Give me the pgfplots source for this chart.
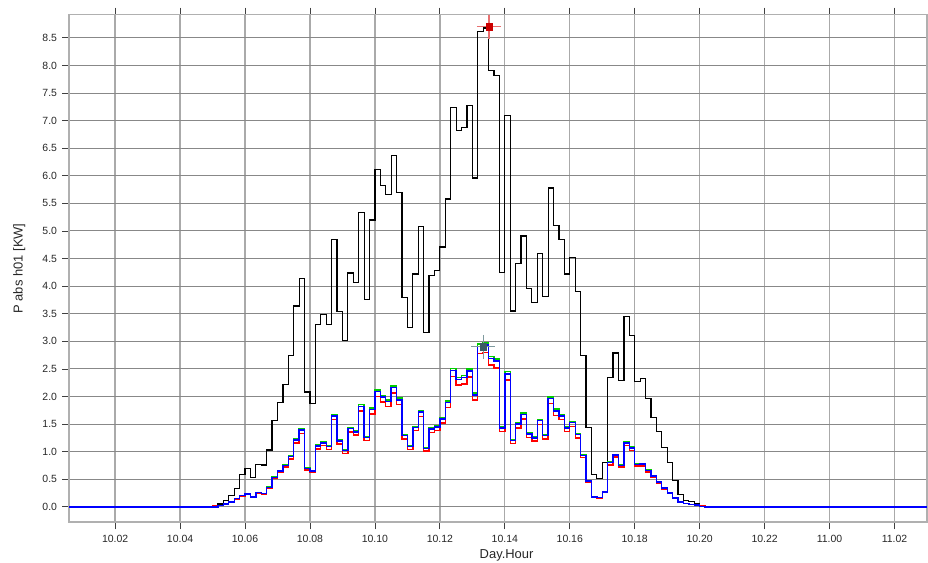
\documentclass[border=0pt]{standalone}
\usepackage{pgfplots}
\pgfplotsset{compat=1.18}
\usepackage{pgfplotstable}
\usepackage{fontspec}
\setmainfont{Liberation Sans}
\definecolor{gridh}{HTML}{888888}
\definecolor{gridv}{HTML}{AAAAAA}
\definecolor{frame}{HTML}{B0B0B0}
\definecolor{cred}{HTML}{FF0000}
\definecolor{cgreen}{HTML}{00CC00}
\definecolor{cblue}{HTML}{0000FF}
\definecolor{curred}{HTML}{CC0000}
\definecolor{curredl}{HTML}{E87070}
\definecolor{curblue}{HTML}{3A5A66}
\definecolor{curbluel}{HTML}{7F9A9E}
\pgfplotstableread{
x k r g b
0.58 0 0 0 0
5.000 0 0.02 0 0
5.167 0.05 0.02 0.02 0.02
5.333 0.11 0.05 0.05 0.05
5.500 0.20 0.09 0.09 0.09
5.667 0.33 0.14 0.15 0.15
5.833 0.58 0.20 0.21 0.21
6.000 0.70 0.22 0.23 0.23
6.167 0.53 0.17 0.18 0.18
6.333 0.77 0.25 0.26 0.26
6.500 0.76 0.23 0.24 0.24
6.667 1.03 0.33 0.36 0.35
6.833 1.56 0.51 0.54 0.53
7.000 1.89 0.62 0.66 0.65
7.167 2.22 0.72 0.76 0.75
7.333 2.75 0.87 0.92 0.91
7.500 3.64 1.16 1.23 1.21
7.667 4.14 1.33 1.41 1.39
7.833 2.08 0.67 0.71 0.70
8.000 1.88 0.62 0.66 0.65
8.167 3.30 1.05 1.12 1.10
8.333 3.49 1.11 1.18 1.16
8.500 3.30 1.04 1.11 1.09
8.667 4.84 1.58 1.67 1.65
8.833 3.54 1.14 1.21 1.19
9.000 3.02 0.97 1.04 1.02
9.167 4.24 1.36 1.44 1.42
9.333 4.06 1.30 1.38 1.36
9.500 5.33 1.74 1.85 1.82
9.667 3.76 1.20 1.28 1.26
9.833 5.20 1.68 1.79 1.76
10.000 6.12 2.00 2.12 2.09
10.167 5.83 1.90 2.02 1.99
10.333 5.66 1.82 1.94 1.91
10.500 6.37 2.06 2.19 2.16
10.667 5.70 1.85 1.97 1.94
10.833 3.79 1.23 1.31 1.29
11.000 3.25 1.04 1.11 1.09
11.167 4.22 1.38 1.46 1.44
11.333 5.08 1.64 1.75 1.72
11.500 3.16 1.01 1.08 1.06
11.667 4.19 1.35 1.43 1.41
11.833 4.29 1.38 1.47 1.45
12.000 4.71 1.52 1.61 1.59
12.167 5.58 1.80 1.92 1.89
12.333 7.24 2.36 2.51 2.47
12.500 6.82 2.21 2.34 2.31
12.667 6.88 2.23 2.38 2.34
12.833 7.27 2.35 2.50 2.46
13.000 5.96 1.94 2.06 2.03
13.167 8.62 2.78 2.95 2.91
13.333 8.68 2.80 2.97 2.93
13.500 7.91 2.57 2.73 2.69
13.667 7.82 2.52 2.68 2.64
13.833 4.25 1.37 1.45 1.43
14.000 7.10 2.30 2.45 2.41
14.167 3.55 1.15 1.22 1.20
14.333 4.41 1.43 1.52 1.50
14.500 4.91 1.59 1.70 1.67
14.667 3.96 1.26 1.34 1.32
14.833 3.70 1.19 1.27 1.25
15.000 4.59 1.49 1.58 1.56
15.167 3.81 1.23 1.31 1.29
15.333 5.78 1.87 1.99 1.96
15.500 5.10 1.66 1.77 1.74
15.667 4.85 1.58 1.67 1.65
15.833 4.22 1.37 1.45 1.43
16.000 4.52 1.46 1.55 1.53
16.167 3.91 1.25 1.33 1.31
16.333 2.75 0.89 0.94 0.93
16.500 1.44 0.45 0.48 0.47
16.667 0.58 0.17 0.18 0.18
16.833 0.52 0.16 0.17 0.17
17.000 0.81 0.26 0.27 0.27
17.167 2.35 0.76 0.81 0.80
17.333 2.79 0.90 0.95 0.94
17.500 2.29 0.72 0.76 0.75
17.667 3.45 1.11 1.18 1.16
17.833 3.10 1.02 1.09 1.07
18.000 2.27 0.74 0.78 0.77
18.167 2.32 0.74 0.79 0.78
18.333 1.97 0.63 0.67 0.66
18.500 1.62 0.53 0.57 0.56
18.667 1.37 0.43 0.46 0.45
18.833 1.07 0.32 0.35 0.34
19.000 0.80 0.24 0.25 0.25
19.167 0.48 0.15 0.16 0.16
19.333 0.22 0.09 0.09 0.09
19.500 0.12 0.06 0.06 0.06
19.667 0.09 0.04 0.04 0.04
19.833 0.06 0.03 0.03 0.03
20.000 0.03 0.02 0.01 0.01
20.167 0 0.01 0 0
20.333 0 0 0 0
27.0 0 0 0 0
}\data
\begin{document}
\begin{tikzpicture}
\begin{axis}[
  name=ax,
  scale only axis, width=858bp, height=507.6bp,
  xmin=0.58, xmax=27.0, ymin=-0.28, ymax=8.92,
  xtick={2,4,6,8,10,12,14,16,18,20,22,24,26},
  xticklabels={10.02,10.04,10.06,10.08,10.10,10.12,10.14,10.16,10.18,10.20,10.22,11.00,11.02},
  ytick={0,0.5,1,1.5,2,2.5,3,3.5,4,4.5,5,5.5,6,6.5,7,7.5,8,8.5},
  /pgf/number format/assume math mode=true,
  yticklabel style={xshift=-1.5bp, /pgf/number format/.cd, fixed, fixed zerofill, precision=1},
  xticklabel style={yshift=-2bp},
  ticklabel style={font=\fontsize{10.5}{12}\selectfont, text=black!85},
  xmajorgrids, ymajorgrids,
  x grid style={gridv, line width=1.3bp},
  y grid style={gridh, line width=1bp},
  axis line style={frame, line width=1.6bp},
  tick align=outside, major tick length=7bp,
  tick style={black!75, line width=0.8bp},
  xlabel={Day.Hour}, ylabel={P abs h01 [KW]},
  label style={font=\fontsize{13}{15}\selectfont, text=black!85},
  xlabel style={at={(axis description cs:0.51,-0.0644)}, anchor=center},
  ylabel style={at={(axis description cs:-0.058,0.5)}, anchor=center},
  every axis plot/.append style={const plot, mark=none},
]
\addplot[black, line width=1.2bp] table[x=x, y=k] {\data};
\addplot[cred, line width=1.4bp] table[x=x, y=r] {\data};
\addplot[cgreen, line width=1.4bp] table[x=x, y=g] {\data};
\addplot[cblue, line width=1.4bp] table[x=x, y=b] {\data};
\addplot[only marks, mark=+, mark size=12bp, curredl, line width=1.2bp] coordinates {(13.51,8.70)};
\addplot[only marks, mark=square*, mark size=3.2bp, curred] coordinates {(13.51,8.70)};
\addplot[only marks, mark=+, mark size=12bp, curbluel, line width=1.2bp] coordinates {(13.34,2.90)};
\addplot[only marks, mark=square*, mark size=3.2bp, curblue] coordinates {(13.34,2.90)};
\end{axis}
\pgfresetboundingbox
\path ([shift={(-69bp,-40.7bp)}]ax.south west) rectangle ([shift={(1bp,14.7bp)}]ax.north east);
\end{tikzpicture}
\end{document}
